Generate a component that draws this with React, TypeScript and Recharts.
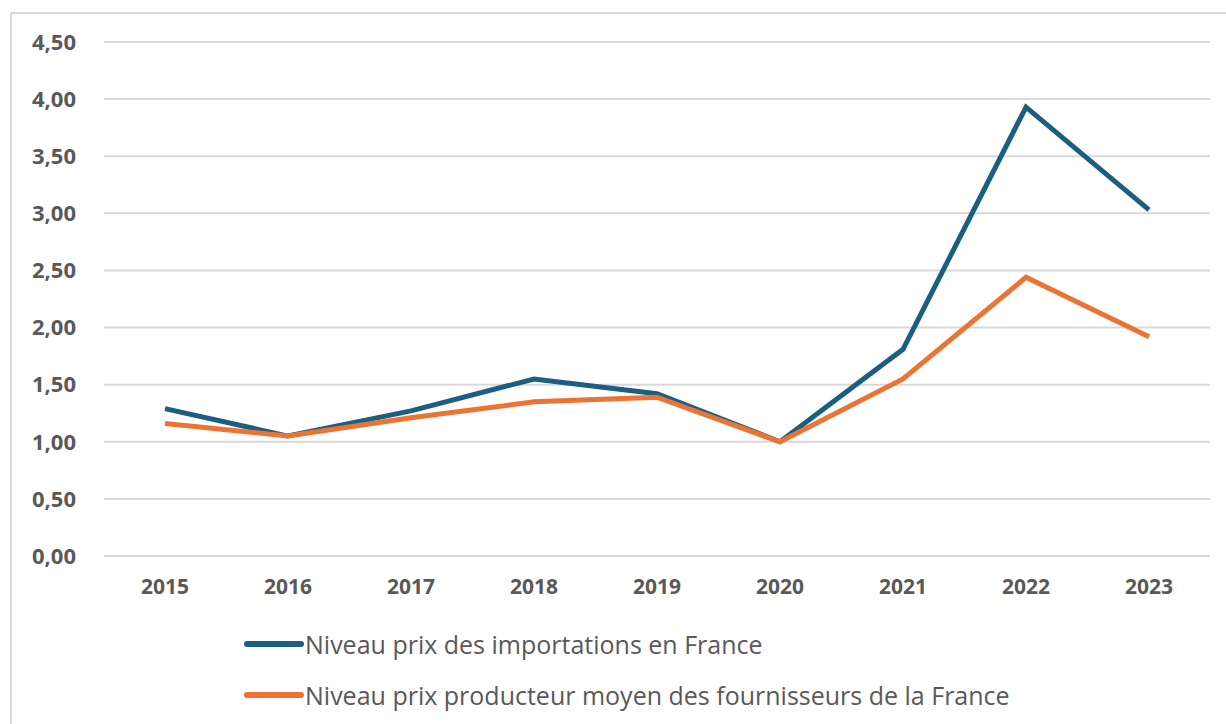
import React from 'react';
import { LineChart, Line, XAxis, YAxis, CartesianGrid, Legend } from 'recharts';

const years = ['2015', '2016', '2017', '2018', '2019', '2020', '2021', '2022', '2023'];
const importPrices = [1.29, 1.05, 1.27, 1.55, 1.42, 1.0, 1.81, 3.93, 3.03];
const producerPrices = [1.16, 1.05, 1.21, 1.35, 1.39, 1.0, 1.55, 2.44, 1.92];
const yTicks = [0, 0.5, 1, 1.5, 2, 2.5, 3, 3.5, 4, 4.5];

const IMPORT_NAME = 'Niveau prix des importations en France';
const PRODUCER_NAME = 'Niveau prix producteur moyen des fournisseurs de la France';

const BLUE = '#1b5e82';
const ORANGE = '#eb7333';
const TEXT = '#595959';
const FONT = '"Open Sans", sans-serif';

const chartData = years.map((year, i) => ({
    year,
    imports: importPrices[i],
    producers: producerPrices[i],
}));

const formatTick = (val: number) => val.toFixed(2).replace('.', ',');

function ChartLegend({ payload }: any) {
    return (
        <div>
            {(payload || []).map((entry: any) => (
                <div key={entry.value} style={{ display: 'flex', alignItems: 'center', height: 51 }}>
                    <svg width={68} height={10} style={{ display: 'block' }}>
                        <line x1={10} y1={5} x2={64} y2={5} stroke={entry.color} strokeWidth={6} strokeLinecap="round" />
                    </svg>
                    <span style={{ fontFamily: FONT, fontSize: 25, color: TEXT, whiteSpace: 'nowrap' }}>{entry.value}</span>
                </div>
            ))}
        </div>
    );
}

export default function App() {
    return (
        <div style={{ position: 'absolute', left: 0, top: 0, width: 1226, height: 724, background: '#fff', overflow: 'hidden' }}>
            <div
                style={{
                    position: 'absolute',
                    left: 10,
                    top: 12,
                    width: 1240,
                    height: 740,
                    borderLeft: '2px solid #d9d9d9',
                    borderTop: '2px solid #d9d9d9',
                }}
            />
            <LineChart
                width={1226}
                height={724}
                data={chartData}
                margin={{ top: 42, right: 16, bottom: 138, left: 0 }}
                style={{ position: 'absolute', left: 0, top: 0 }}
            >
                <CartesianGrid vertical={false} stroke="#d9d9d9" strokeWidth={2} />
                <XAxis
                    dataKey="year"
                    height={30}
                    padding={{ left: 61, right: 61 }}
                    axisLine={false}
                    tickLine={false}
                    tickSize={0}
                    tickMargin={23}
                    tick={{ fontSize: 21, fontWeight: 700, fill: TEXT, fontFamily: FONT }}
                />
                <YAxis
                    width={104}
                    domain={[0, 4.5]}
                    ticks={yTicks}
                    tickFormatter={formatTick}
                    axisLine={false}
                    tickLine={false}
                    tickSize={0}
                    tickMargin={28}
                    tick={{ fontSize: 22, fontWeight: 700, fill: TEXT, fontFamily: FONT }}
                />
                <Legend
                    layout="vertical"
                    align="center"
                    verticalAlign="middle"
                    content={<ChartLegend />}
                    wrapperStyle={{ top: 618, left: 237, width: 900 }}
                />
                <Line
                    type="linear"
                    dataKey="imports"
                    name={IMPORT_NAME}
                    stroke={BLUE}
                    strokeWidth={5}
                    dot={false}
                    activeDot={false}
                    isAnimationActive={false}
                />
                <Line
                    type="linear"
                    dataKey="producers"
                    name={PRODUCER_NAME}
                    stroke={ORANGE}
                    strokeWidth={5}
                    dot={false}
                    activeDot={false}
                    isAnimationActive={false}
                />
            </LineChart>
        </div>
    );
}
